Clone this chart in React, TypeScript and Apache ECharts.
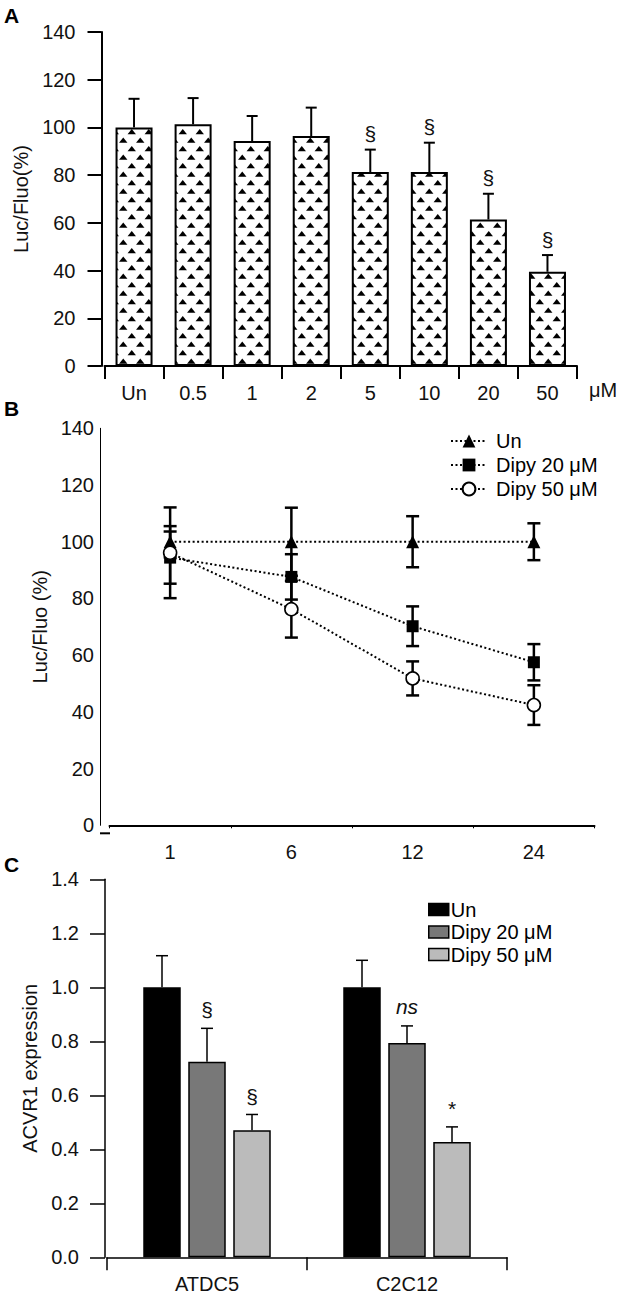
import React, { useEffect, useRef } from 'react';
import * as echarts from 'echarts';

const FONT = '"Liberation Sans", Arial, Helvetica, sans-serif';

// ---------- Panel A : dose response ----------
const doseCategories = ['Un', '0.5', '1', '2', '5', '10', '20', '50'];
const doseMeans = [100, 101.3, 94.3, 96.4, 81.3, 81.3, 61.4, 39.5];
const doseErrors = [12, 11, 10.5, 11.9, 9.4, 12.3, 10.8, 7];
const doseMarks = ['', '', '', '', '§', '§', '§', '§'];

// ---------- Panel B : time course ----------
const timeCategories = ['1', '6', '12', '24'];
const timeUn = [100, 100, 100, 100];
const timeUnErr = [5.5, 12, 9, 6.5];
const timeDipy20 = [94.4, 87.6, 70.2, 57.5];
const timeDipy20Err = [9.2, 8, 7, 6.4];
const timeDipy50 = [96.1, 76.2, 51.8, 42.4];
const timeDipy50Err = [16, 10, 6, 7];

// ---------- Panel C : ACVR1 expression ----------
const cellLines = ['ATDC5', 'C2C12'];
const acvrUn = [1.0, 1.0];
const acvrUnErr = [0.117, 0.1];
const acvrDipy20 = [0.724, 0.794];
const acvrDipy20Err = [0.124, 0.063];
const acvrDipy50 = [0.471, 0.427];
const acvrDipy50Err = [0.058, 0.056];
const acvrUnMarks = ['', ''];
const acvrDipy20Marks = ['§', 'ns'];
const acvrDipy50Marks = ['§', '*'];

const seriesNames = ['Un', 'Dipy 20 μM', 'Dipy 50 μM'];
const barNamesC = seriesNames.map((n) => n + ' ');

const axisText = { fontFamily: FONT, fontSize: 20, color: '#111' };
const nameText = { fontFamily: FONT, fontSize: 20, color: '#111' };

const C_BAR_W = 37.5;
const C_BAR_GAP = 7.5;

function makeTrianglePattern(): HTMLCanvasElement {
  const c = document.createElement('canvas');
  c.width = 17;
  c.height = 17;
  const ctx = c.getContext('2d') as CanvasRenderingContext2D;
  ctx.fillStyle = '#fff';
  ctx.fillRect(0, 0, 17, 17);
  ctx.fillStyle = '#000';
  const tri = (cx: number, topY: number) => {
    ctx.beginPath();
    ctx.moveTo(cx, topY);
    ctx.lineTo(cx + 4.2, topY + 5.2);
    ctx.lineTo(cx - 4.2, topY + 5.2);
    ctx.closePath();
    ctx.fill();
  };
  tri(4.25, 1.5);
  tri(12.75, 10);
  return c;
}

function errorSeries(
  values: number[],
  errors: number[],
  marks: string[],
  axisIdx: number,
  cfg: { offset: number; capW: number; lw: number; both: boolean; markGap: number; z: number }
) {
  return {
    type: 'custom',
    xAxisIndex: axisIdx,
    yAxisIndex: axisIdx,
    z: cfg.z,
    silent: true,
    data: values.map((v, i) => [i, v, errors[i]]),
    encode: { x: 0, y: 1 },
    renderItem: (params: any, api: any) => {
      const i = api.value(0);
      const v = api.value(1);
      const e = api.value(2);
      const top = api.coord([i, v + e]);
      const bot = api.coord([i, cfg.both ? v - e : v]);
      const x = top[0] + cfg.offset;
      const half = cfg.capW / 2;
      const st = { stroke: '#000', lineWidth: cfg.lw };
      const children: any[] = [
        { type: 'line', shape: { x1: x, y1: top[1], x2: x, y2: bot[1] }, style: st },
        { type: 'line', shape: { x1: x - half, y1: top[1], x2: x + half, y2: top[1] }, style: st },
      ];
      if (cfg.both) {
        children.push({ type: 'line', shape: { x1: x - half, y1: bot[1], x2: x + half, y2: bot[1] }, style: st });
      }
      const m = marks[params.dataIndex];
      if (m) {
        children.push({
          type: 'text',
          x: x,
          y: top[1] - cfg.markGap,
          style: {
            text: m,
            textAlign: 'center',
            textVerticalAlign: 'middle',
            font: (m === 'ns' ? 'italic ' : '') + '21px ' + FONT,
            fill: '#111',
          },
        });
      }
      return { type: 'group', children };
    },
  };
}

export default function App() {
  const ref = useRef<HTMLDivElement>(null);

  useEffect(() => {
    document.body.style.margin = '0';
    if (!ref.current) return;
    const chart = echarts.init(ref.current, null, { renderer: 'svg' });
    const pattern = makeTrianglePattern();

    const option: any = {
      animation: false,
      backgroundColor: '#fff',
      grid: [
        { left: 104.5, top: 32, width: 472.5, height: 334, outerBoundsMode: 'none' },
        { left: 109.5, top: 428.3, width: 485, height: 397, outerBoundsMode: 'none' },
        { left: 107, top: 879.3, width: 400, height: 378, outerBoundsMode: 'none' },
      ],
      graphic: [
        { type: 'text', left: 4, top: 5, style: { text: 'A', font: 'bold 21px ' + FONT, fill: '#000' } },
        { type: 'text', left: 4, top: 398, style: { text: 'B', font: 'bold 21px ' + FONT, fill: '#000' } },
        { type: 'text', left: 4, top: 854, style: { text: 'C', font: 'bold 21px ' + FONT, fill: '#000' } },
        // short stub extending panel B's x-axis line to its y-axis
        { type: 'line', shape: { x1: 100, y1: 833.3, x2: 110, y2: 833.3 }, style: { stroke: '#000', lineWidth: 2 } },
      ],
      legend: [
        {
          data: seriesNames,
          orient: 'vertical',
          left: 445,
          top: 426,
          itemWidth: 36,
          itemHeight: 16,
          itemGap: 4,
          selectedMode: false,
          textStyle: { fontFamily: FONT, fontSize: 20, color: '#000', padding: [0, 0, 0, 4] },
        },
        {
          data: barNamesC,
          orient: 'vertical',
          left: 423,
          top: 894.5,
          itemWidth: 20,
          itemHeight: 12,
          itemGap: 2.5,
          icon: 'rect',
          selectedMode: false,
          formatter: (n: string) => n.trim(),
          itemStyle: { borderColor: '#000', borderWidth: 1.5 },
          textStyle: { fontFamily: FONT, fontSize: 20, color: '#000', padding: [0, 0, 0, -3] },
        },
      ],
      xAxis: [
        {
          gridIndex: 0,
          type: 'category',
          data: doseCategories,
          offset: 3,
          axisLine: { show: true, lineStyle: { color: '#000', width: 2 } },
          axisTick: { show: true, length: 13, interval: 0, lineStyle: { color: '#000', width: 2 } },
          axisLabel: { ...axisText, margin: 14, interval: 0 },
          splitLine: { show: false },
          name: 'μM',
          nameLocation: 'end',
          nameGap: 12,
          nameTextStyle: { ...axisText, verticalAlign: 'top', padding: [14, 0, 0, 0] },
        },
        {
          gridIndex: 1,
          type: 'category',
          data: timeCategories,
          offset: 8,
          axisLine: { show: true, lineStyle: { color: '#000', width: 2 } },
          axisTick: { show: true, length: 3, interval: 0, lineStyle: { color: '#000', width: 1 } },
          axisLabel: { ...axisText, margin: 9, interval: 0 },
          splitLine: { show: false },
        },
        {
          gridIndex: 2,
          type: 'category',
          data: cellLines,
          offset: 3,
          axisLine: { show: true, lineStyle: { color: '#000', width: 1.5 } },
          axisTick: { show: true, length: 13, interval: 0, lineStyle: { color: '#000', width: 1.5 } },
          axisLabel: { ...axisText, margin: 14, interval: 0 },
          splitLine: { show: false },
        },
      ],
      yAxis: [
        {
          gridIndex: 0,
          type: 'value',
          min: 0,
          max: 140,
          interval: 20,
          offset: 3,
          axisLine: { show: true, lineStyle: { color: '#000', width: 2 } },
          axisTick: { show: true, length: 14, lineStyle: { color: '#000', width: 2 } },
          axisLabel: { ...axisText, margin: 26 },
          splitLine: { show: false },
          name: 'Luc/Fluo(%)',
          nameLocation: 'middle',
          nameGap: 55,
          nameTextStyle: nameText,
        },
        {
          gridIndex: 1,
          type: 'value',
          min: 0,
          max: 140,
          interval: 20,
          offset: 9.5,
          axisLine: { show: true, lineStyle: { color: '#000', width: 1 } },
          axisTick: { show: false },
          axisLabel: { ...axisText, margin: 6 },
          splitLine: { show: false },
          name: 'Luc/Fluo (%)',
          nameLocation: 'middle',
          nameGap: 48,
          nameTextStyle: nameText,
        },
        {
          gridIndex: 2,
          type: 'value',
          min: 0,
          max: 1.4,
          interval: 0.2,
          offset: 2,
          axisLine: { show: true, lineStyle: { color: '#000', width: 1.5 } },
          axisTick: { show: true, length: 15, lineStyle: { color: '#000', width: 1.5 } },
          axisLabel: { ...axisText, margin: 26, formatter: (v: number) => v.toFixed(1) },
          splitLine: { show: false },
          name: 'ACVR1 expression',
          nameLocation: 'middle',
          nameGap: 60,
          nameTextStyle: nameText,
        },
      ],
      series: [
        // Panel A
        {
          type: 'bar',
          name: 'dose',
          xAxisIndex: 0,
          yAxisIndex: 0,
          data: doseMeans,
          barWidth: 37,
          z: 2,
          itemStyle: {
            color: { image: pattern, repeat: 'repeat' },
            borderColor: '#000',
            borderWidth: 2,
          },
        },
        errorSeries(doseMeans, doseErrors, doseMarks, 0, { offset: 0, capW: 11, lw: 2, both: false, markGap: 16, z: 3 }),

        // Panel B
        errorSeries(timeUn, timeUnErr, ['', '', '', ''], 1, { offset: 0, capW: 13, lw: 2.5, both: true, markGap: 0, z: 2 }),
        errorSeries(timeDipy20, timeDipy20Err, ['', '', '', ''], 1, { offset: 0, capW: 13, lw: 2.5, both: true, markGap: 0, z: 2 }),
        errorSeries(timeDipy50, timeDipy50Err, ['', '', '', ''], 1, { offset: 0, capW: 13, lw: 2.5, both: true, markGap: 0, z: 2 }),
        {
          type: 'line',
          name: seriesNames[0],
          xAxisIndex: 1,
          yAxisIndex: 1,
          data: timeUn,
          symbol: 'triangle',
          symbolSize: 13,
          z: 4,
          lineStyle: { color: '#000', width: 2, type: [2, 2.5] },
          itemStyle: { color: '#000' },
        },
        {
          type: 'line',
          name: seriesNames[1],
          xAxisIndex: 1,
          yAxisIndex: 1,
          data: timeDipy20,
          symbol: 'rect',
          symbolSize: 12,
          z: 4,
          lineStyle: { color: '#000', width: 2, type: [2, 2.5] },
          itemStyle: { color: '#000' },
        },
        {
          type: 'line',
          name: seriesNames[2],
          xAxisIndex: 1,
          yAxisIndex: 1,
          data: timeDipy50,
          symbol: 'circle',
          symbolSize: 13,
          z: 4,
          lineStyle: { color: '#000', width: 2, type: [2, 2.5] },
          itemStyle: { color: '#fff', borderColor: '#000', borderWidth: 1.6 },
        },

        // Panel C
        {
          type: 'bar',
          name: barNamesC[0],
          xAxisIndex: 2,
          yAxisIndex: 2,
          data: acvrUn,
          barWidth: C_BAR_W,
          barGap: (C_BAR_GAP / C_BAR_W) * 100 + '%',
          itemStyle: { color: '#000', borderColor: '#000', borderWidth: 1.5 },
        },
        {
          type: 'bar',
          name: barNamesC[1],
          xAxisIndex: 2,
          yAxisIndex: 2,
          data: acvrDipy20,
          barWidth: C_BAR_W,
          barGap: (C_BAR_GAP / C_BAR_W) * 100 + '%',
          itemStyle: { color: '#787878', borderColor: '#000', borderWidth: 1.5 },
        },
        {
          type: 'bar',
          name: barNamesC[2],
          xAxisIndex: 2,
          yAxisIndex: 2,
          data: acvrDipy50,
          barWidth: C_BAR_W,
          barGap: (C_BAR_GAP / C_BAR_W) * 100 + '%',
          itemStyle: { color: '#bbbbbb', borderColor: '#000', borderWidth: 1.5 },
        },
        errorSeries(acvrUn, acvrUnErr, acvrUnMarks, 2, { offset: -(C_BAR_W + C_BAR_GAP), capW: 12, lw: 1.5, both: false, markGap: 18, z: 3 }),
        errorSeries(acvrDipy20, acvrDipy20Err, acvrDipy20Marks, 2, { offset: 0, capW: 12, lw: 1.5, both: false, markGap: 19, z: 3 }),
        errorSeries(acvrDipy50, acvrDipy50Err, acvrDipy50Marks, 2, { offset: C_BAR_W + C_BAR_GAP, capW: 12, lw: 1.5, both: false, markGap: 18, z: 3 }),
      ],
    };

    chart.setOption(option);
    return () => chart.dispose();
  }, []);

  return <div ref={ref} style={{ width: 618, height: 1294 }} />;
}
